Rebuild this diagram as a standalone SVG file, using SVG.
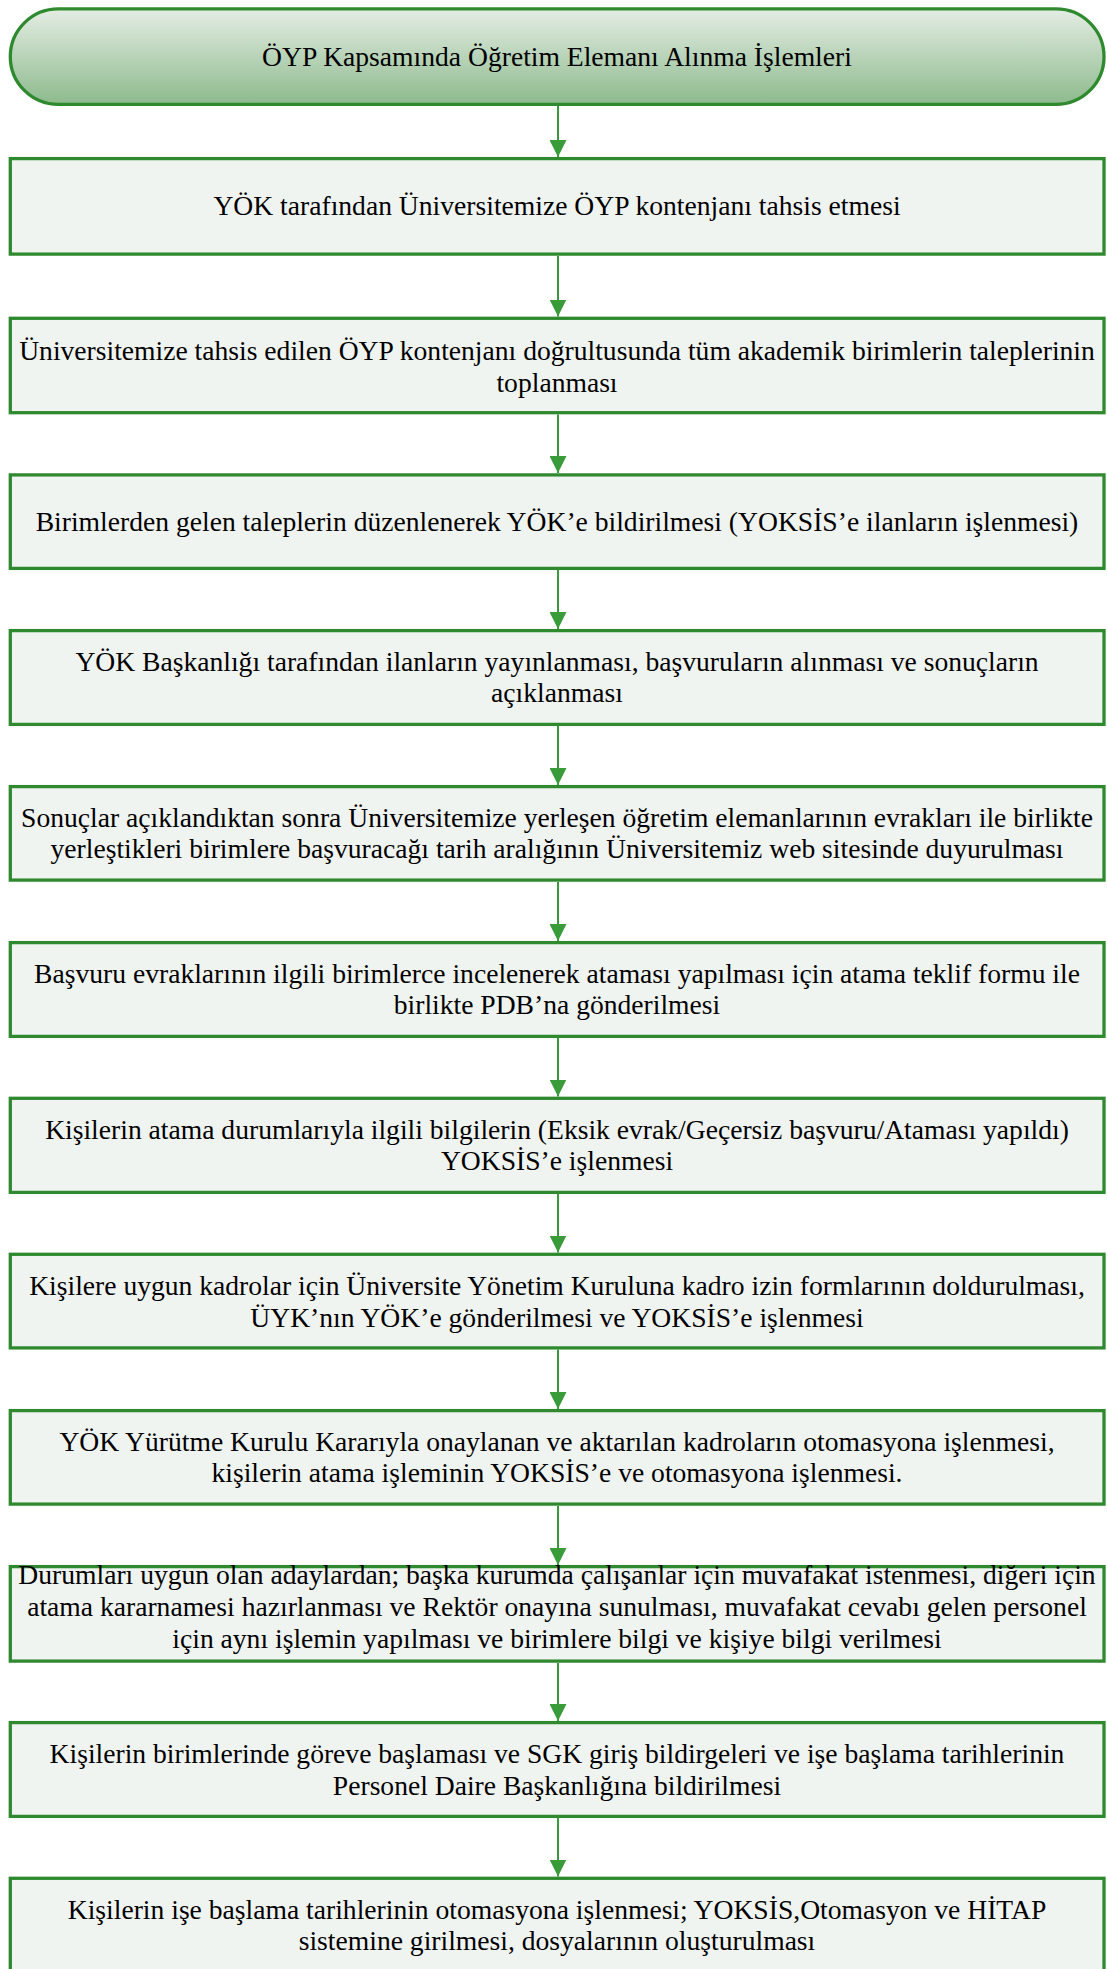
<svg xmlns="http://www.w3.org/2000/svg" width="1107" height="1969" viewBox="0 0 1107 1969">
<defs>
<linearGradient id="g" x1="0" y1="0" x2="0" y2="1">
<stop offset="0" stop-color="#E4EDE4"/>
<stop offset="1" stop-color="#8DBA8D"/>
</linearGradient>
<marker id="ah" markerWidth="17" markerHeight="17" viewBox="0 0 17 17" refX="17" refY="8.5" orient="auto" markerUnits="userSpaceOnUse">
<path d="M0,0 L17,8.5 L0,17 Z" fill="#3A9B3A"/>
</marker>
<style>
.box{fill:#F0F4F0;stroke:#2F8A2F;stroke-width:3.3}
.term{fill:url(#g);stroke:#2F8A2F;stroke-width:3.3}
.t{font-family:"Liberation Serif","Times New Roman",serif;font-size:27.6px;fill:#000;text-anchor:middle}
.c{stroke:#3A9B3A;stroke-width:2;fill:none;marker-end:url(#ah)}
</style>
</defs>
<g id="connectors">
<line class="c" x1="558" y1="106" x2="558" y2="157"/>
<line class="c" x1="558" y1="256" x2="558" y2="316.5"/>
<line class="c" x1="558" y1="414.5" x2="558" y2="473"/>
<line class="c" x1="558" y1="570" x2="558" y2="629"/>
<line class="c" x1="558" y1="726" x2="558" y2="785"/>
<line class="c" x1="558" y1="882" x2="558" y2="941"/>
<line class="c" x1="558" y1="1038" x2="558" y2="1096.5"/>
<line class="c" x1="558" y1="1194" x2="558" y2="1252.5"/>
<line class="c" x1="558" y1="1349.5" x2="558" y2="1409"/>
<line class="c" x1="558" y1="1506" x2="558" y2="1565"/>
<line class="c" x1="558" y1="1663" x2="558" y2="1721"/>
<line class="c" x1="558" y1="1818" x2="558" y2="1876.5"/>
</g>
<g id="n1">
<rect class="term" x="10.3" y="8.9" width="1093.7" height="95.5" rx="48" ry="47.7"/>
<text class="t" x="557" y="66">ÖYP Kapsamında Öğretim Elemanı Alınma İşlemleri</text>
</g>
<g id="n2">
<rect class="box" x="10.3" y="158.6" width="1093.7" height="95.5"/>
<text class="t" x="557" y="215.4">YÖK tarafından Üniversitemize ÖYP kontenjanı tahsis etmesi</text>
</g>
<g id="n3">
<rect class="box" x="10.3" y="318.3" width="1093.7" height="94.4"/>
<text class="t" x="557" y="360">Üniversitemize tahsis edilen ÖYP kontenjanı doğrultusunda tüm akademik birimlerin taleplerinin</text>
<text class="t" x="557" y="391.6">toplanması</text>
</g>
<g id="n4">
<rect class="box" x="10.3" y="474.9" width="1093.7" height="93.5"/>
<text class="t" x="557" y="530.6">Birimlerden gelen taleplerin düzenlenerek YÖK’e bildirilmesi (YOKSİS’e ilanların işlenmesi)</text>
</g>
<g id="n5">
<rect class="box" x="10.3" y="630.6" width="1093.7" height="93.8"/>
<text class="t" x="557" y="670.8">YÖK Başkanlığı tarafından ilanların yayınlanması, başvuruların alınması ve sonuçların</text>
<text class="t" x="557" y="702.4">açıklanması</text>
</g>
<g id="n6">
<rect class="box" x="10.3" y="786.6" width="1093.7" height="93.5"/>
<text class="t" x="557" y="826.7">Sonuçlar açıklandıktan sonra Üniversitemize yerleşen öğretim elemanlarının evrakları ile birlikte</text>
<text class="t" x="557" y="858.3">yerleştikleri birimlere başvuracağı tarih aralığının Üniversitemiz web sitesinde duyurulması</text>
</g>
<g id="n7">
<rect class="box" x="10.3" y="942.6" width="1093.7" height="93.8"/>
<text class="t" x="557" y="982.6">Başvuru evraklarının ilgili birimlerce incelenerek ataması yapılması için atama teklif formu ile</text>
<text class="t" x="557" y="1014.2">birlikte PDB’na gönderilmesi</text>
</g>
<g id="n8">
<rect class="box" x="10.3" y="1098.3" width="1093.7" height="94.1"/>
<text class="t" x="557" y="1138.6">Kişilerin atama durumlarıyla ilgili bilgilerin (Eksik evrak/Geçersiz başvuru/Ataması yapıldı)</text>
<text class="t" x="557" y="1170.2">YOKSİS’e işlenmesi</text>
</g>
<g id="n9">
<rect class="box" x="10.3" y="1254.3" width="1093.7" height="93.6"/>
<text class="t" x="557" y="1295">Kişilere uygun kadrolar için Üniversite Yönetim Kuruluna kadro izin formlarının doldurulması,</text>
<text class="t" x="557" y="1326.6">ÜYK’nın YÖK’e gönderilmesi ve YOKSİS’e işlenmesi</text>
</g>
<g id="n10">
<rect class="box" x="10.3" y="1410.6" width="1093.7" height="93.5"/>
<text class="t" x="557" y="1450.7">YÖK Yürütme Kurulu Kararıyla onaylanan ve aktarılan kadroların otomasyona işlenmesi,</text>
<text class="t" x="557" y="1482.3">kişilerin atama işleminin YOKSİS’e ve otomasyona işlenmesi.</text>
</g>
<g id="n11">
<rect class="box" x="10.3" y="1566.6" width="1093.7" height="94.5"/>
<text class="t" x="557" y="1584">Durumları uygun olan adaylardan; başka kurumda çalışanlar için muvafakat istenmesi, diğeri için</text>
<text class="t" x="557" y="1616">atama kararnamesi hazırlanması ve Rektör onayına sunulması, muvafakat cevabı gelen personel</text>
<text class="t" x="557" y="1648">için aynı işlemin yapılması ve birimlere bilgi ve kişiye bilgi verilmesi</text>
</g>
<g id="n12">
<rect class="box" x="10.3" y="1722.6" width="1093.7" height="93.8"/>
<text class="t" x="557" y="1763">Kişilerin birimlerinde göreve başlaması ve SGK giriş bildirgeleri ve işe başlama tarihlerinin</text>
<text class="t" x="557" y="1794.6">Personel Daire Başkanlığına bildirilmesi</text>
</g>
<g id="n13">
<rect class="box" x="10.3" y="1878.3" width="1093.7" height="94"/>
<text class="t" x="557" y="1918.5">Kişilerin işe başlama tarihlerinin otomasyona işlenmesi; YOKSİS,Otomasyon ve HİTAP</text>
<text class="t" x="557" y="1950.1">sistemine girilmesi, dosyalarının oluşturulması</text>
</g>
</svg>
